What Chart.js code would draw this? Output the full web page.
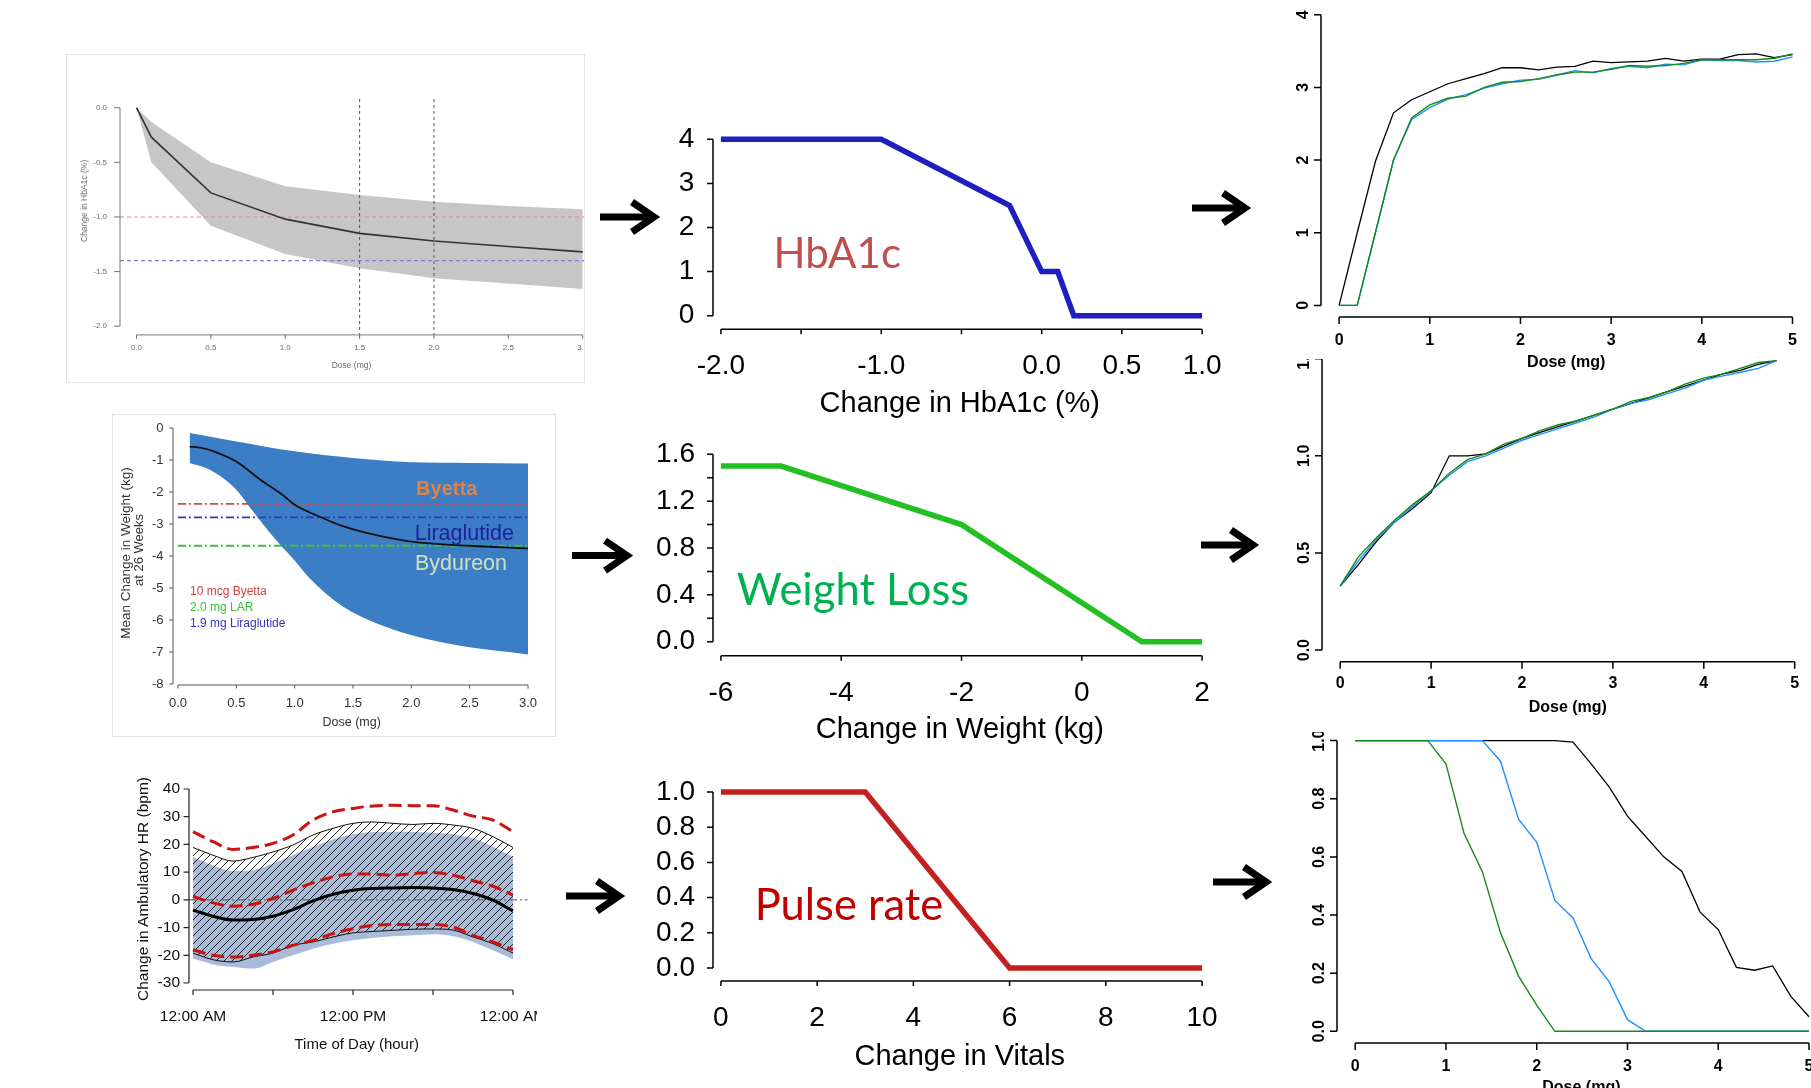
<!DOCTYPE html>
<html><head><meta charset="utf-8">
<script src="https://cdn.jsdelivr.net/npm/chart.js@4.4.1/dist/chart.umd.min.js"></script>
<style>
html,body{margin:0;padding:0;background:#fff;}
body{width:1811px;height:1088px;position:relative;overflow:hidden;font-family:"Liberation Sans",Arial,sans-serif;}
.clip{position:absolute;overflow:hidden;}
.clip canvas{position:absolute;}
.t{position:absolute;white-space:nowrap;line-height:1;z-index:5;}
.frame{position:absolute;border:1px solid #e3e3e3;box-sizing:border-box;}
svg.arr{position:absolute;left:0;top:0;z-index:10;}
</style></head><body>
<script>
// ================= DATA =================
// Panel 1: HbA1c dose-response (grey band)
const p1Dose  = [0, 0.1, 0.5, 1.0, 1.5, 2.0, 2.5, 3.0];
const p1Mean  = [0, -0.27, -0.78, -1.02, -1.15, -1.22, -1.27, -1.32];
const p1Upper = [0, -0.13, -0.50, -0.72, -0.80, -0.86, -0.90, -0.93];
const p1Lower = [0, -0.50, -1.08, -1.34, -1.47, -1.56, -1.61, -1.66];
const p1RefRed = -1.0, p1RefBlue = -1.4;
const p1DoseLines = [1.5, 2.0];
const p1XTicks = [0, 0.5, 1, 1.5, 2, 2.5, 3];
const p1XLabels = ['0.0','0.5','1.0','1.5','2.0','2.5','3.0'];
const p1YTicks = [0, -0.5, -1, -1.5, -2];
const p1YLabels = ['0.0','-0.5','-1.0','-1.5','-2.0'];

// Panel 2: weight dose-response (blue band)
const p2UpX  = [0.1, 0.5, 1.0, 1.5, 2.0, 2.5, 3.0];
const p2Up   = [-0.16, -0.42, -0.73, -0.94, -1.07, -1.09, -1.11];
const p2LoX  = [0.1, 0.27, 0.5, 0.61, 0.84, 0.99, 1.13, 1.41, 1.7, 1.99, 2.27, 2.56, 2.84, 3.0];
const p2Lo   = [-1.09, -1.3, -1.93, -2.45, -3.5, -4.1, -4.7, -5.57, -6.1, -6.46, -6.7, -6.88, -7.0, -7.08];
const p2MeanX = [0.1, 0.2, 0.3, 0.5, 0.7, 0.9, 1.0, 1.2, 1.4, 1.7, 2.0, 2.5, 3.0];
const p2Mean  = [-0.58, -0.62, -0.72, -1.05, -1.6, -2.1, -2.4, -2.75, -3.05, -3.35, -3.55, -3.68, -3.76];
const p2RefByetta = -2.37, p2RefLira = -2.79, p2RefLAR = -3.68;
const p2XTicks = [0, 0.5, 1, 1.5, 2, 2.5, 3];
const p2XLabels = ['0.0','0.5','1.0','1.5','2.0','2.5','3.0'];
const p2YTicks = [0, -1, -2, -3, -4, -5, -6, -7, -8];
const p2YLabels = ['0','-1','-2','-3','-4','-5','-6','-7','-8'];

// Panel 3: ambulatory heart rate over the day (hours)
const p3Hour   = [0, 1.5, 3, 4.5, 6, 7.5, 9, 10.5, 12, 13.5, 15, 16.5, 18, 19.5, 21, 22.5, 24];
const p3BlueUp = [15.5, 12.5, 10.4, 10.7, 13.1, 16.1, 19.2, 21.8, 23.7, 24.5, 24.6, 24.5, 24.2, 23.7, 22.2, 19.2, 15.5];
const p3BlueLo = [-21.2, -23.3, -24.2, -24.8, -22.4, -20.0, -17.6, -15.8, -14.6, -13.7, -13.1, -12.8, -12.4, -13.1, -15.2, -18.2, -21.4];
const p3HatchUp = [18.9, 16.1, 14.0, 15.3, 17.3, 19.8, 23.4, 25.8, 27.6, 28.1, 27.6, 27.2, 27.6, 27.0, 25.8, 22.8, 18.9];
const p3HatchLo = [-19.2, -21.6, -22.4, -20.6, -19.2, -16.4, -15.2, -13.4, -11.9, -11.4, -11.0, -10.6, -10.5, -10.9, -13.4, -15.8, -19.2];
const p3Mean   = [-3.7, -5.9, -7.3, -7.1, -5.9, -3.5, -0.4, 2.0, 3.5, 4.1, 4.3, 4.5, 4.3, 3.7, 2.3, -0.1, -4.0];
const p3RedUp  = [24.6, 21.0, 18.2, 18.9, 20.4, 23.4, 28.8, 31.8, 33.0, 33.9, 34.1, 34.0, 34.0, 32.4, 30.2, 28.8, 24.6];
const p3RedMid = [1.3, -1.1, -2.3, -1.6, 0.5, 3.5, 6.1, 8.3, 9.3, 9.3, 8.9, 9.5, 9.9, 8.9, 6.9, 4.9, 1.7];
const p3RedLo  = [-18.0, -20.0, -20.6, -20.0, -18.8, -16.4, -14.6, -12.2, -10.4, -9.2, -8.9, -8.9, -8.9, -9.8, -12.8, -15.2, -18.0];
const p3ZeroX  = [-0.3, 25.1];
const p3ZeroY  = [0, 0];
const p3XTicks = [0, 6, 12, 18, 24];
const p3XLabels = ['12:00 AM', '', '12:00 PM', '', '12:00 AM'];
const p3YTicks = [40, 30, 20, 10, 0, -10, -20, -30];
const p3YLabels = ['40','30','20','10','0','-10','-20','-30'];

// Panel 4: HbA1c utility
const p4X = [-2.0, -1.0, -0.2, 0.0, 0.1, 0.2, 1.0];
const p4Y = [4, 4, 2.5, 1, 1, 0, 0];
const p4XTicks = [-2, -1.5, -1, -0.5, 0, 0.5, 1];
const p4XLabels = ['-2.0', '', '-1.0', '', '0.0', '0.5', '1.0'];
const p4YTicks = [0, 1, 2, 3, 4];
const p4YLabels = ['0','1','2','3','4'];

// Panel 5: weight-loss utility
const p5X = [-6, -5, -2, 1, 2];
const p5Y = [1.5, 1.5, 1.0, 0, 0];
const p5XTicks = [-6, -4, -2, 0, 2];
const p5XLabels = ['-6','-4','-2','0','2'];
const p5YTicks = [0, 0.2, 0.4, 0.6, 0.8, 1.0, 1.2, 1.4, 1.6];
const p5YLabels = ['0.0','','0.4','','0.8','','1.2','','1.6'];

// Panel 6: pulse-rate utility
const p6X = [0, 3, 6, 10];
const p6Y = [1, 1, 0, 0];
const p6XTicks = [0, 2, 4, 6, 8, 10];
const p6XLabels = ['0','2','4','6','8','10'];
const p6YTicks = [0, 0.2, 0.4, 0.6, 0.8, 1.0];
const p6YLabels = ['0.0','0.2','0.4','0.6','0.8','1.0'];

// Panels 7-9: utility vs dose (black / blue / green)
const doseGrid = [0,0.2,0.4,0.6,0.8,1.0,1.2,1.4,1.6,1.8,2.0,2.2,2.4,2.6,2.8,3.0,3.2,3.4,3.6,3.8,4.0,4.2,4.4,4.6,4.8,5.0];
const p7Black = [0,1.0,1.98,2.65,2.83,2.94,3.05,3.12,3.19,3.27,3.27,3.24,3.28,3.29,3.36,3.34,3.35,3.36,3.40,3.36,3.39,3.39,3.45,3.46,3.41,3.45];
const p7Green = [0,0,1.0,2.0,2.58,2.76,2.85,2.88,3.00,3.07,3.08,3.12,3.17,3.21,3.21,3.25,3.30,3.29,3.30,3.33,3.38,3.38,3.38,3.38,3.40,3.46];
const p7Blue  = [0,0,1.0,2.0,2.56,2.72,2.84,2.90,2.99,3.05,3.10,3.11,3.17,3.23,3.20,3.26,3.29,3.27,3.32,3.31,3.38,3.37,3.37,3.35,3.36,3.42];
const p7YTicks = [0,1,2,3,4]; const p7YLabels = ['0','1','2','3','4'];

const p8Dose  = [0,0.2,0.4,0.6,0.8,1.0,1.2,1.4,1.6,1.8,2.0,2.2,2.4,2.6,2.8,3.0,3.2,3.4,3.6,3.8,4.0,4.2,4.4,4.6,4.8];
const p8Black = [0.33,0.44,0.56,0.66,0.73,0.81,1.0,1.0,1.01,1.05,1.09,1.12,1.15,1.18,1.21,1.24,1.27,1.30,1.33,1.36,1.39,1.42,1.44,1.47,1.49];
const p8Green = [0.33,0.48,0.58,0.67,0.75,0.82,0.91,0.98,1.01,1.06,1.09,1.13,1.16,1.18,1.21,1.24,1.28,1.30,1.33,1.37,1.40,1.42,1.45,1.48,1.49];
const p8Blue  = [0.33,0.46,0.57,0.66,0.74,0.82,0.90,0.97,1.00,1.04,1.08,1.11,1.14,1.17,1.20,1.24,1.27,1.29,1.32,1.35,1.39,1.41,1.43,1.45,1.49];
const p8YTicks = [0,0.5,1.0,1.5]; const p8YLabels = ['0.0','0.5','1.0','1.5'];

const p9Black = [1,1,1,1,1,1,1,1,1,1,1,1,0.995,0.92,0.84,0.74,0.67,0.60,0.55,0.41,0.35,0.22,0.21,0.225,0.12,0.05];
const p9Blue  = [1,1,1,1,1,1,1,1,0.93,0.73,0.65,0.45,0.39,0.25,0.17,0.04,0,0,0,0,0,0,0,0,0,0];
const p9Green = [1,1,1,1,1,0.92,0.68,0.55,0.34,0.19,0.09,0,0,0,0,0,0,0,0,0,0,0,0,0,0,0];
const p9YTicks = [0,0.2,0.4,0.6,0.8,1.0]; const p9YLabels = ['0.0','0.2','0.4','0.6','0.8','1.0'];

const doseTicks = [0,1,2,3,4,5]; const doseLabels = ['0','1','2','3','4','5'];

// ================= HELPERS =================
const ser = (xs, ys) => xs.map((x, i) => ({x: x, y: ys[i]}));
const lin = (p0, v0, p1, v1) => p => v0 + (p - p0) * (v1 - v0) / (p1 - p0);
const NONE = 'rgba(0,0,0,0)';

function makeAxes(c) {
  return {
    id: 'rAxes',
    afterDraw(chart) {
      const ctx = chart.ctx, a = chart.chartArea, xs = chart.scales.x, ys = chart.scales.y;
      const xp = v => xs.getPixelForValue(v), yp = v => ys.getPixelForValue(v);
      const X = c.x, Y = c.y, by = a.bottom, lx = a.left;
      ctx.save();
      ctx.strokeStyle = c.color; ctx.lineWidth = c.lw; ctx.lineCap = 'butt';
      ctx.beginPath();
      ctx.moveTo(xp(X.ticks[0]), by); ctx.lineTo(xp(X.ticks[X.ticks.length - 1]), by);
      X.ticks.forEach(v => { ctx.moveTo(xp(v), by); ctx.lineTo(xp(v), by + X.len); });
      ctx.moveTo(lx, yp(Y.ticks[0])); ctx.lineTo(lx, yp(Y.ticks[Y.ticks.length - 1]));
      Y.ticks.forEach(v => { ctx.moveTo(lx, yp(v)); ctx.lineTo(lx - Y.len, yp(v)); });
      ctx.stroke();
      ctx.fillStyle = c.text || c.color; ctx.font = c.font; ctx.textBaseline = 'middle';
      X.ticks.forEach((v, i) => {
        const s = X.labels[i]; if (!s) return;
        ctx.textAlign = 'center'; ctx.fillText(s, xp(v), by + X.off);
      });
      Y.ticks.forEach((v, i) => {
        const s = Y.labels[i]; if (!s) return;
        if (Y.rot) {
          ctx.save(); ctx.translate(lx - Y.off, yp(v)); ctx.rotate(-Math.PI / 2);
          ctx.textAlign = 'center'; ctx.fillText(s, 0, 0); ctx.restore();
        } else { ctx.textAlign = 'right'; ctx.fillText(s, lx - Y.off, yp(v)); }
      });
      ctx.restore();
    }
  };
}

function panel(L, datasets, axes) {
  const A = L.area, M = L.m;
  const cx = A[0] - M[0], cy = A[1] - M[1];
  const cw = Math.round(A[2] - A[0] + M[0] + M[2]), ch = Math.round(A[3] - A[1] + M[1] + M[3]);
  const C = L.clip || [cx, cy, cx + cw, cy + ch];
  const wrap = document.createElement('div'); wrap.className = 'clip';
  wrap.style.left = C[0] + 'px'; wrap.style.top = C[1] + 'px';
  wrap.style.width = (C[2] - C[0]) + 'px'; wrap.style.height = (C[3] - C[1]) + 'px';
  const cv = document.createElement('canvas'); cv.width = cw; cv.height = ch;
  cv.style.left = (cx - C[0]) + 'px'; cv.style.top = (cy - C[1]) + 'px';
  cv.style.width = cw + 'px'; cv.style.height = ch + 'px';
  wrap.appendChild(cv); document.body.appendChild(wrap);
  const padR = cw - M[0] - (A[2] - A[0]), padB = ch - M[1] - (A[3] - A[1]);
  return new Chart(cv, {
    type: 'line',
    data: { datasets: datasets },
    options: {
      responsive: false, animation: false, events: [], devicePixelRatio: 1,
      layout: { padding: { left: M[0], top: M[1], right: padR, bottom: padB } },
      scales: {
        x: { type: 'linear', min: L.xr[0], max: L.xr[1], display: false, bounds: 'data' },
        y: { type: 'linear', min: L.yr[0], max: L.yr[1], display: false, bounds: 'data' }
      },
      plugins: { legend: { display: false }, tooltip: { enabled: false } },
      elements: { point: { radius: 0 } }
    },
    plugins: [makeAxes(axes)]
  });
}

function line(data, color, width, extra) {
  return Object.assign({ data: data, borderColor: color, borderWidth: width, fill: false,
    pointRadius: 0, tension: 0 }, extra || {});
}

function txt(s, x, y, css, mode) {
  const d = document.createElement('div'); d.className = 't'; d.textContent = s;
  d.style.cssText += css; d.style.left = x + 'px'; d.style.top = y + 'px';
  let tf = mode === 'l' ? 'translate(0,-50%)' : 'translate(-50%,-50%)';
  if (mode === 'r') tf += ' rotate(-90deg)';
  d.style.transform = tf;
  document.body.appendChild(d);
}
function frame(l, t, r, b) {
  const d = document.createElement('div'); d.className = 'frame';
  d.style.left = l + 'px'; d.style.top = t + 'px'; d.style.width = (r - l) + 'px'; d.style.height = (b - t) + 'px';
  document.body.appendChild(d);
}
function hatchPattern() {
  const c = document.createElement('canvas'); c.width = 8; c.height = 8;
  const g = c.getContext('2d'); g.strokeStyle = '#111'; g.lineWidth = 0.9;
  g.beginPath(); g.moveTo(0, 8); g.lineTo(8, 0); g.moveTo(-2, 2); g.lineTo(2, -2); g.moveTo(6, 10); g.lineTo(10, 6);
  g.stroke();
  return g.createPattern(c, 'repeat');
}

const AR = "'Liberation Sans', Arial, sans-serif";

// ================= PANEL 1 =================
frame(66, 54, 585, 383);
(function () {
  const fx = lin(136.5, 0, 582.7, 3), fy = lin(108, 0, 326.5, -2);
  const area = [120, 99.3, 600.5, 335.2];
  const L = { area: area, m: [54, 45, 0, 48], clip: [67, 55, 584, 382],
    xr: [fx(area[0]), fx(area[2])], yr: [fy(area[3]), fy(area[1])] };
  const ds = [
    line(ser(p1Dose, p1Mean), '#333', 1.6),
    line(ser([p1DoseLines[0], p1DoseLines[0]], [L.yr[1], L.yr[0]]), '#555', 1, { borderDash: [3, 3] }),
    line(ser([p1DoseLines[1], p1DoseLines[1]], [L.yr[1], L.yr[0]]), '#555', 1, { borderDash: [3, 3] }),
    line(ser(L.xr, [p1RefRed, p1RefRed]), '#e58a8a', 1.1, { borderDash: [4, 3] }),
    line(ser(L.xr, [p1RefBlue, p1RefBlue]), '#7f7fd0', 1.1, { borderDash: [4, 3] }),
    line(ser(p1Dose, p1Upper), NONE, 1, { fill: '+1', backgroundColor: '#c6c6c6' }),
    line(ser(p1Dose, p1Lower), NONE, 1)
  ];
  panel(L, ds, { color: '#777', text: '#6a6a6a', lw: 1, font: '8px ' + AR,
    x: { ticks: p1XTicks, labels: p1XLabels, len: 4, off: 12.5 },
    y: { ticks: p1YTicks, labels: p1YLabels, len: 6, off: 13, rot: false } });
  txt('Dose (mg)', 351.5, 365, 'font:8.5px ' + AR + ';color:#6a6a6a;', 'c');
  txt('Change in HbA1c (%)', 84, 200.6, 'font:8.5px ' + AR + ';color:#6a6a6a;', 'r');
})();

// ================= PANEL 2 =================
frame(112, 414, 556, 737);
(function () {
  const fx = lin(178, 0, 528, 3), fy = lin(428, 0, 684, -8);
  const area = [173, 420, 532, 685];
  const L = { area: area, m: [60, 6, 24, 51], clip: [113, 415, 555, 736],
    xr: [fx(area[0]), fx(area[2])], yr: [fy(area[3]), fy(area[1])] };
  const dd = [8, 3, 2, 3];
  const ds = [
    line(ser(p2MeanX, p2Mean), '#111', 1.8, { cubicInterpolationMode: 'monotone' }),
    line(ser([0, 3], [p2RefByetta, p2RefByetta]), '#d04848', 1.8, { borderDash: dd }),
    line(ser([0, 3], [p2RefLira, p2RefLira]), '#3535c0', 1.8, { borderDash: dd }),
    line(ser([0, 3], [p2RefLAR, p2RefLAR]), '#3fbf3f', 1.8, { borderDash: dd }),
    line(ser(p2UpX, p2Up), NONE, 1, { fill: '+1', backgroundColor: '#3b7ec6', cubicInterpolationMode: 'monotone' }),
    line(ser(p2LoX, p2Lo), NONE, 1, { cubicInterpolationMode: 'monotone' })
  ];
  panel(L, ds, { color: '#555', text: '#333', lw: 1, font: '13px ' + AR,
    x: { ticks: p2XTicks, labels: p2XLabels, len: 3.5, off: 18.3 },
    y: { ticks: p2YTicks, labels: p2YLabels, len: 4, off: 9.5, rot: false } });
  txt('Dose (mg)', 351.7, 721.7, 'font:12.5px ' + AR + ';color:#333;', 'c');
  txt('Mean Change in Weight (kg)', 125, 553, 'font:13.5px ' + AR + ';color:#333;', 'r');
  txt('at 26 Weeks', 138, 550, 'font:13px ' + AR + ';color:#333;', 'r');
  txt('Byetta', 446.7, 488.3, 'font:bold 20px ' + AR + ';color:#e4823f;', 'c');
  txt('Liraglutide', 464.3, 533.3, 'font:21.5px ' + AR + ';color:#1f1f9e;', 'c');
  txt('Bydureon', 461, 563.3, 'font:21.5px ' + AR + ';color:#cfe0bd;', 'c');
  txt('10 mcg Byetta', 190, 591, 'font:12px ' + AR + ';color:#d43c3c;', 'l');
  txt('2.0 mg LAR', 190, 606.5, 'font:12px ' + AR + ';color:#3cbf3c;', 'l');
  txt('1.9 mg Liraglutide', 190, 622.5, 'font:12px ' + AR + ';color:#3535c0;', 'l');
})();

// ================= PANEL 3 =================
(function () {
  const fx = lin(193, 0, 513, 24), fy = lin(789, 40, 983, -30);
  const area = [189, 780, 530, 990];
  const L = { area: area, m: [70, 10, 7, 80],
    xr: [fx(area[0]), fx(area[2])], yr: [fy(area[3]), fy(area[1])] };
  const mono = { cubicInterpolationMode: 'monotone' };
  const red = '#cc1212';
  const ds = [
    line(ser(p3Hour, p3Mean), '#000', 3, mono),
    line(ser(p3Hour, p3RedUp), red, 3, Object.assign({ borderDash: [13, 6] }, mono)),
    line(ser(p3Hour, p3RedMid), red, 3, Object.assign({ borderDash: [13, 6] }, mono)),
    line(ser(p3Hour, p3RedLo), red, 3, Object.assign({ borderDash: [13, 6] }, mono)),
    line(ser(p3ZeroX, p3ZeroY), '#555', 1, { borderDash: [8, 3, 2, 3] }),
    line(ser(p3Hour, p3HatchUp), '#111', 1, Object.assign({ fill: '+1', backgroundColor: hatchPattern() }, mono)),
    line(ser(p3Hour, p3HatchLo), '#111', 1, mono),
    line(ser(p3Hour, p3BlueUp), NONE, 1, Object.assign({ fill: '+1', backgroundColor: '#a8bcd9' }, mono)),
    line(ser(p3Hour, p3BlueLo), NONE, 1, mono)
  ];
  panel(L, ds, { color: '#222', text: '#111', lw: 1.2, font: '15.5px ' + AR,
    x: { ticks: p3XTicks, labels: p3XLabels, len: 5, off: 26.7 },
    y: { ticks: p3YTicks, labels: p3YLabels, len: 5.5, off: 9, rot: false } });
  txt('Time of Day (hour)', 356.7, 1043.3, 'font:15px ' + AR + ';color:#111;', 'c');
  txt('Change in Ambulatory HR (bpm)', 143.3, 889, 'font:15.5px ' + AR + ';color:#111;', 'r');
})();

// ================= PANELS 4-6 (utility functions) =================
function utilPanel(area, fx, fy, xs, ys, color, axes) {
  const L = { area: area, m: [60, 8, 26, 62],
    xr: [fx(area[0]), fx(area[2])], yr: [fy(area[3]), fy(area[1])] };
  panel(L, [line(ser(xs, ys), color, 5.5, { borderJoinStyle: 'miter' })],
    Object.assign({ color: '#000', text: '#000', lw: 1.5, font: '28px ' + AR }, axes));
}
utilPanel([712.7, 133, 1206, 329.3], lin(720.6, -2, 1201.8, 1), lin(139.3, 4, 315.7, 0), p4X, p4Y, '#1f1fc0',
  { x: { ticks: p4XTicks, labels: p4XLabels, len: 5, off: 37.4 }, y: { ticks: p4YTicks, labels: p4YLabels, len: 6, off: 18.6 } });
utilPanel([712.7, 448, 1206, 655.7], lin(720.6, -6, 1201.8, 2), lin(454.3, 1.6, 641.7, 0), p5X, p5Y, '#22c022',
  { x: { ticks: p5XTicks, labels: p5XLabels, len: 5, off: 37.6 }, y: { ticks: p5YTicks, labels: p5YLabels, len: 6, off: 18 } });
utilPanel([712.7, 786, 1206, 981], lin(720.6, 0, 1201.8, 10), lin(792, 1, 968, 0), p6X, p6Y, '#c42020',
  { x: { ticks: p6XTicks, labels: p6XLabels, len: 5, off: 37.3 }, y: { ticks: p6YTicks, labels: p6YLabels, len: 6, off: 18 } });
txt('Change in HbA1c (%)', 959.8, 401.7, 'font:29px ' + AR + ';color:#000;', 'c');
txt('Change in Weight (kg)', 959.8, 728.3, 'font:29px ' + AR + ';color:#000;', 'c');
txt('Change in Vitals', 959.8, 1055, 'font:29px ' + AR + ';color:#000;', 'c');
txt('HbA1c', 837.2, 251.7, "font:42px Lato, 'Open Sans', sans-serif;color:#C0504D;", 'c');
txt('Weight Loss', 853, 588.3, "font:43.5px Lato, 'Open Sans', sans-serif;color:#00B050;", 'c');
txt('Pulse rate', 849, 902.5, "font:43.5px Lato, 'Open Sans', sans-serif;color:#C00000;", 'c');

// ================= PANELS 7-9 (R style) =================
const RB = 'bold 16px ' + AR;
const GREEN = '#168a16', BLUE = '#1e90ff';
function rPanel(L, ds, yTicks, yLabels, xoff, yoff) {
  panel(L, ds, { color: '#000', text: '#000', lw: 1.5, font: RB,
    x: { ticks: doseTicks, labels: doseLabels, len: 7, off: xoff },
    y: { ticks: yTicks, labels: yLabels, len: 7, off: yoff, rot: true } });
}
(function () {
  const fx = lin(1339.3, 0, 1792.7, 5), fy = lin(305.7, 0, 15, 4);
  const area = [1321.2, 3.3, 1810.9, 317.3];
  rPanel({ area: area, m: [36, 3, 0, 60], xr: [fx(area[0]), fx(area[2])], yr: [fy(area[3]), fy(area[1])] },
    [line(ser(doseGrid, p7Green), GREEN, 1.4), line(ser(doseGrid, p7Blue), BLUE, 1.4), line(ser(doseGrid, p7Black), '#000', 1.3)],
    p7YTicks, p7YLabels, 23.4, 17.6);
})();
(function () {
  const fx = lin(1339.9, 0, 1794.4, 5), fy = lin(650, 0, 455.7, 1.0);
  const area = [1321.7, 346.9, 1812.6, 661.7];
  rPanel({ area: area, m: [36, 0, 0, 60], clip: [1280, 359, 1811, 740], xr: [fx(area[0]), fx(area[2])], yr: [fy(area[3]), fy(area[1])] },
    [line(ser(p8Dose, p8Green), GREEN, 1.4), line(ser(p8Dose, p8Blue), BLUE, 1.4), line(ser(p8Dose, p8Black), '#000', 1.3)],
    p8YTicks, p8YLabels, 21.6, 17.6);
})();
(function () {
  const fx = lin(1355.2, 0, 1809, 5), fy = lin(1031.7, 0, 741, 1.0);
  const area = [1337.0, 729.4, 1827, 1043.3];
  rPanel({ area: area, m: [36, 0, 0, 50], clip: [1290, 732, 1811, 1088], xr: [fx(area[0]), fx(area[2])], yr: [fy(area[3]), fy(area[1])] },
    [line(ser(doseGrid, p9Green), GREEN, 1.4), line(ser(doseGrid, p9Blue), BLUE, 1.4), line(ser(doseGrid, p9Black), '#000', 1.3)],
    p9YTicks, p9YLabels, 24, 17.6);
})();
txt('Dose (mg)', 1566.2, 361.7, 'font:' + RB + ';color:#000;', 'c');
txt('Dose (mg)', 1567.8, 706.7, 'font:' + RB + ';color:#000;', 'c');
txt('Dose (mg)', 1581.4, 1087, 'font:' + RB + ';color:#000;', 'c');

// ================= ARROWS =================
(function () {
  const arrows = [[600, 660, 217], [572, 633, 555.6], [566, 625, 896], [1192, 1251, 208], [1201, 1259, 545], [1213, 1272, 882]];
  let s = '<svg class="arr" width="1811" height="1088" xmlns="http://www.w3.org/2000/svg">';
  arrows.forEach(a => {
    const t = a[1] - 6, y = a[2];
    s += '<line x1="' + a[0] + '" y1="' + y + '" x2="' + (t - 2) + '" y2="' + y + '" stroke="#000" stroke-width="7"/>';
    s += '<polyline points="' + (t - 22) + ',' + (y - 15) + ' ' + t + ',' + y + ' ' + (t - 22) + ',' + (y + 15) +
      '" fill="none" stroke="#000" stroke-width="7" stroke-linejoin="miter"/>';
  });
  s += '</svg>';
  document.body.insertAdjacentHTML('beforeend', s);
})();
</script>
</body></html>
